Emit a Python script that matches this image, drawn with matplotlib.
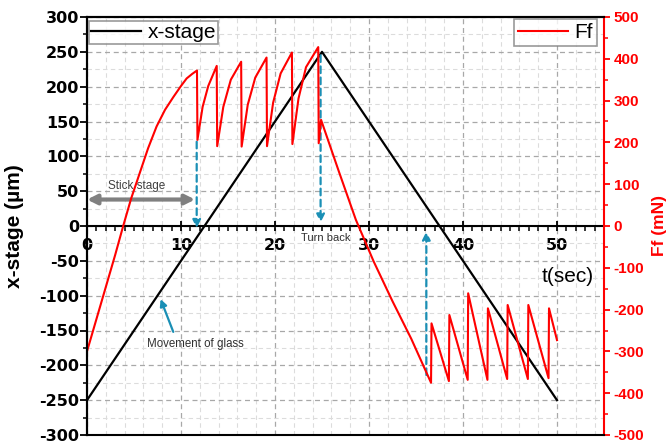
import numpy as np
import matplotlib
matplotlib.use('Agg')
import matplotlib.pyplot as plt
from matplotlib.ticker import MultipleLocator

plt.rcParams['font.family'] = ['Liberation Sans', 'DejaVu Sans']
plt.rcParams['font.weight'] = 'bold'
plt.rcParams['axes.unicode_minus'] = False

# x-stage position (um)
t_stage = [0, 25, 50]
x_stage = [-250, 250, -250]

# friction force Ff (mN)
t_ff = [0, 1.0, 2.0, 3.0, 3.85, 4.7, 5.6, 6.5, 7.4, 8.3, 9.2, 10.0, 10.6, 11.2, 11.7,
        11.75, 12.3, 12.9, 13.8,
        13.85, 14.5, 15.3, 16.4,
        16.45, 17.1, 17.9, 19.1,
        19.15, 19.8, 20.6, 21.8,
        21.85, 22.5, 23.3, 24.6,
        24.65, 24.9, 26.8, 28.6, 30.5, 32.5, 34.5, 36.1, 36.6,
        36.65, 38.5, 38.55, 40.5, 40.55, 42.6, 42.65, 44.7, 44.75,
        46.9, 46.95, 49.1, 49.15, 50.0]
ff = [-300, -223, -146, -69, 0, 66, 126, 186, 238, 278, 309, 335, 353, 364, 372,
      206, 285, 335, 383,
      191, 285, 350, 393,
      190, 290, 355, 403,
      191, 295, 365, 415,
      196, 305, 380, 428,
      198, 254, 130, 15, -85, -180, -270, -350, -375,
      -233, -371, -213, -368, -161, -368, -197, -366, -189,
      -366, -189, -364, -197, -273]

teal = '#1a8fb5'

fig = plt.figure(figsize=(6.7, 4.45), dpi=100)
ax = fig.add_axes([87 / 670, 10 / 445, 517 / 670, 418 / 445])
ax2 = ax.twinx()

# grid
ax.set_axisbelow(True)
ax.grid(which='major', ls=(0, (4, 3)), color='#a8a8a8', lw=0.9)
ax.grid(which='minor', axis='y', ls=(0, (4, 3)), color='#dcdcdc', lw=0.8)
for xv in np.arange(2, 55, 2):
    if xv % 10:
        ax.axvline(xv, ls=(0, (4, 3)), color='#dcdcdc', lw=0.8, zorder=0)

ax.plot(t_stage, x_stage, color='black', lw=1.6, label='x-stage')
ax2.plot(t_ff, ff, color='red', lw=1.5, label='Ff')

ax.set_xlim(0, 55)
ax.set_ylim(-300, 300)
ax2.set_ylim(-500, 500)

ax.xaxis.set_major_locator(MultipleLocator(10))
ax.xaxis.set_minor_locator(MultipleLocator(1))
ax.yaxis.set_major_locator(MultipleLocator(50))
ax.yaxis.set_minor_locator(MultipleLocator(25))
ax2.yaxis.set_major_locator(MultipleLocator(100))
ax2.yaxis.set_minor_locator(MultipleLocator(50))

# spines
ax.spines['bottom'].set_position(('data', 0))
ax.spines['right'].set_visible(False)
for s in ['bottom', 'left', 'top']:
    ax.spines[s].set_linewidth(1.5)
    ax2.spines[s].set_linewidth(1.5)
ax2.spines['right'].set_color('red')
ax2.spines['right'].set_linewidth(1.5)

ax.tick_params(axis='x', which='major', direction='inout', length=7, width=1.3, pad=5,
               labelsize=11.5, labelfontfamily='DejaVu Sans')
ax.tick_params(axis='x', which='minor', direction='out', length=3.5, width=1.1)
ax.tick_params(axis='y', which='major', direction='out', length=5, width=1.3, pad=0.5,
               labelsize=11.5, labelfontfamily='DejaVu Sans')
ax.tick_params(axis='y', which='minor', direction='out', length=3, width=1.1)
ax2.tick_params(axis='y', which='major', direction='out', length=4.5, width=1.3,
                pad=2.5, colors='red', labelsize=11)
ax2.tick_params(axis='y', which='minor', direction='out', length=3, width=1.1,
                colors='red')

ax.set_ylabel('x-stage (µm)', fontsize=15, fontweight='bold')
ax.yaxis.set_label_coords(-0.122, 0.5)
ax2.set_ylabel('Ff (mN)', fontsize=12.5, fontweight='bold', color='red')
ax2.yaxis.set_label_coords(1.092, 0.5)

leg_font = {'size': 15, 'weight': 'normal'}
leg1 = ax.legend(loc='upper left', bbox_to_anchor=(0.0, 0.995), prop=leg_font,
                 fancybox=False, edgecolor='#808080', handlelength=2.4,
                 handletextpad=0.3, borderpad=0.1, borderaxespad=0.1)
leg1.get_frame().set_linewidth(1.2)
leg2 = ax2.legend(loc='upper right', bbox_to_anchor=(0.99, 1.0), prop=leg_font,
                  fancybox=False, edgecolor='#808080', handlelength=2.4,
                  handletextpad=0.3, borderpad=0.2, borderaxespad=0.1)
leg2.get_frame().set_linewidth(1.2)

# annotations
ax.text(51.1, -73, 't(sec)', fontsize=15, fontweight='normal', ha='center', va='center')
ax.text(5.3, 58, 'Stick stage', fontsize=8.5, fontweight='normal', color='#404040',
        ha='center', va='center')
ax.annotate('', xy=(0, 38), xytext=(11.5, 38),
            arrowprops=dict(arrowstyle='<|-|>', color='#808080', lw=3,
                            mutation_scale=14, shrinkA=0, shrinkB=0),
            annotation_clip=False)
ax.text(25.4, -17, 'Turn back', fontsize=8, fontweight='normal', color='#303030',
        ha='center', va='center')
ax.text(11.55, -169, 'Movement of glass', fontsize=8.3, fontweight='normal',
        color='#303030', ha='center', va='center')
ax.annotate('', xy=(7.83, -105), xytext=(9.18, -152),
            arrowprops=dict(arrowstyle='-|>', color=teal, lw=1.6,
                            mutation_scale=10, shrinkA=0, shrinkB=0))

dash_arrow = dict(arrowstyle='-|>', color=teal, lw=1.6, ls=(0, (3, 2)),
                  mutation_scale=12, shrinkA=0, shrinkB=0)
ax.annotate('', xy=(11.67, -3), xytext=(11.67, 121), arrowprops=dash_arrow)
ax.annotate('', xy=(24.85, 5), xytext=(24.85, 245), arrowprops=dash_arrow)
ax.annotate('', xy=(36.1, -8), xytext=(36.1, -214), arrowprops=dash_arrow)

fig.savefig('out.png', dpi=100)
